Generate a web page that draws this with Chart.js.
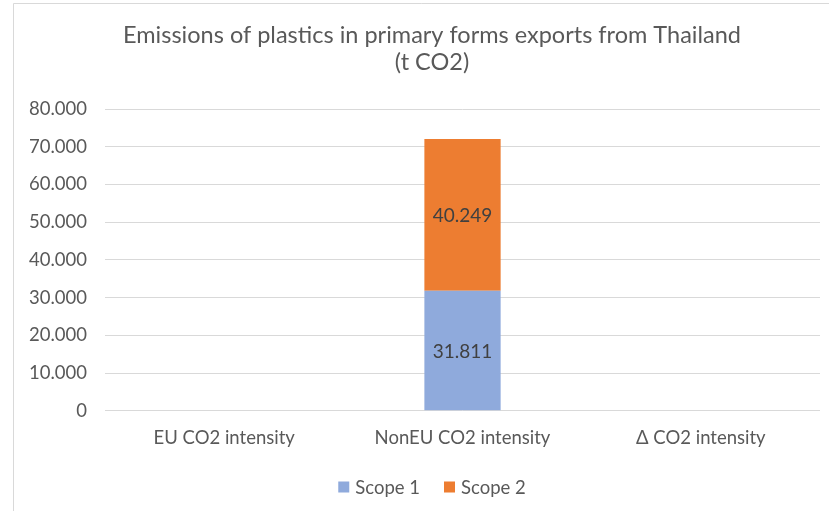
<!DOCTYPE html>
<html>
<head>
<meta charset="utf-8">
<script src="https://cdn.jsdelivr.net/npm/chart.js@4/dist/chart.umd.min.js"></script>
<style>
  html, body { margin: 0; padding: 0; background: #ffffff; }
  #wrap { width: 829px; height: 511px; position: relative; }
</style>
</head>
<body>
<div id="wrap"><canvas id="c" width="829" height="511"></canvas></div>
<script>
// Chart data
const categories = ["EU CO2 intensity", "NonEU CO2 intensity", "\u0394 CO2 intensity"];
const scope1 = [null, 31811, null];
const scope2 = [null, 40249, null];
const yTicks = [0, 10000, 20000, 30000, 40000, 50000, 60000, 70000, 80000];
const titleLines = ["Emissions of plastics in primary forms exports from Thailand", "(t CO2)"];

const FONT = "Lato, 'Open Sans', sans-serif";
const TEXT = "#595959";

// thousands separator as a dot
function fmt(v) {
  return String(Math.round(v)).replace(/\B(?=(\d{3})+(?!\d))/g, ".");
}

// value labels centred inside each bar segment
const segmentLabels = {
  id: "segmentLabels",
  afterDatasetsDraw(chart) {
    const ctx = chart.ctx;
    ctx.save();
    ctx.font = "19px " + FONT;
    ctx.fillStyle = "#404040";
    ctx.textAlign = "center";
    ctx.textBaseline = "middle";
    chart.data.datasets.forEach((ds, i) => {
      chart.getDatasetMeta(i).data.forEach((bar, j) => {
        const v = ds.data[j];
        if (v == null) return;
        const p = bar.getProps(["x", "y", "base"], true);
        ctx.fillText(fmt(v), p.x, (p.y + p.base) / 2 + 1);
      });
    });
    ctx.restore();
  }
};

// white card with a thin frame along the left and top edges
const frame = {
  id: "frame",
  beforeDraw(chart) {
    const ctx = chart.ctx;
    ctx.save();
    ctx.fillStyle = "#ffffff";
    ctx.fillRect(0, 0, chart.width, chart.height);
    ctx.strokeStyle = "#d9d9d9";
    ctx.lineWidth = 1;
    ctx.beginPath();
    ctx.moveTo(13.5, chart.height);
    ctx.lineTo(13.5, 3.5);
    ctx.lineTo(chart.width, 3.5);
    ctx.stroke();
    ctx.restore();
  }
};

// title and legend, centred on the card (which runs past the right edge)
const CARD_CENTER = 432;
const headerAndKey = {
  id: "headerAndKey",
  afterDraw(chart) {
    const ctx = chart.ctx;
    ctx.save();
    ctx.fillStyle = TEXT;
    ctx.textAlign = "center";
    ctx.textBaseline = "middle";
    ctx.font = "23.5px " + FONT;
    titleLines.forEach((t, i) => ctx.fillText(t, CARD_CENTER, 35 + i * 27));

    // legend row
    ctx.font = "18.5px " + FONT;
    const box = 11, gap = 6, spacing = 24;
    const items = chart.data.datasets.map(ds => ({
      text: ds.label, color: ds.backgroundColor, w: box + gap + ctx.measureText(ds.label).width
    }));
    const total = items.reduce((s, it) => s + it.w, 0) + spacing * (items.length - 1);
    let x = CARD_CENTER - total / 2;
    const y = 487;
    ctx.textAlign = "left";
    items.forEach(it => {
      ctx.fillStyle = it.color;
      ctx.fillRect(x, y - box / 2, box, box);
      ctx.fillStyle = TEXT;
      ctx.fillText(it.text, x + box + gap, y + 1);
      x += it.w + spacing;
    });
    ctx.restore();
  }
};

new Chart(document.getElementById("c"), {
  type: "bar",
  data: {
    labels: categories,
    datasets: [
      { label: "Scope 1", data: scope1, backgroundColor: "#8faadc", barPercentage: 0.32, categoryPercentage: 1 },
      { label: "Scope 2", data: scope2, backgroundColor: "#ed7d31", barPercentage: 0.32, categoryPercentage: 1 }
    ]
  },
  options: {
    responsive: false,
    animation: false,
    layout: { padding: { left: 11, right: 9, top: 109, bottom: 54 } },
    plugins: {
      title: { display: false },
      legend: { display: false },
      tooltip: { enabled: false }
    },
    scales: {
      x: {
        stacked: true,
        grid: { display: false },
        border: { display: false },
        ticks: { color: TEXT, font: { family: FONT, size: 18.5 }, padding: 8 }
      },
      y: {
        stacked: true,
        min: 0,
        max: 80000,
        afterBuildTicks(axis) { axis.ticks = yTicks.map(v => ({ value: v })); },
        grid: { color: "#d9d9d9", drawTicks: false, lineWidth: 1 },
        border: { display: false },
        ticks: { color: TEXT, font: { family: FONT, size: 18.5 }, padding: 18, callback: v => fmt(v) }
      }
    }
  },
  plugins: [frame, segmentLabels, headerAndKey]
});
</script>
</body>
</html>
